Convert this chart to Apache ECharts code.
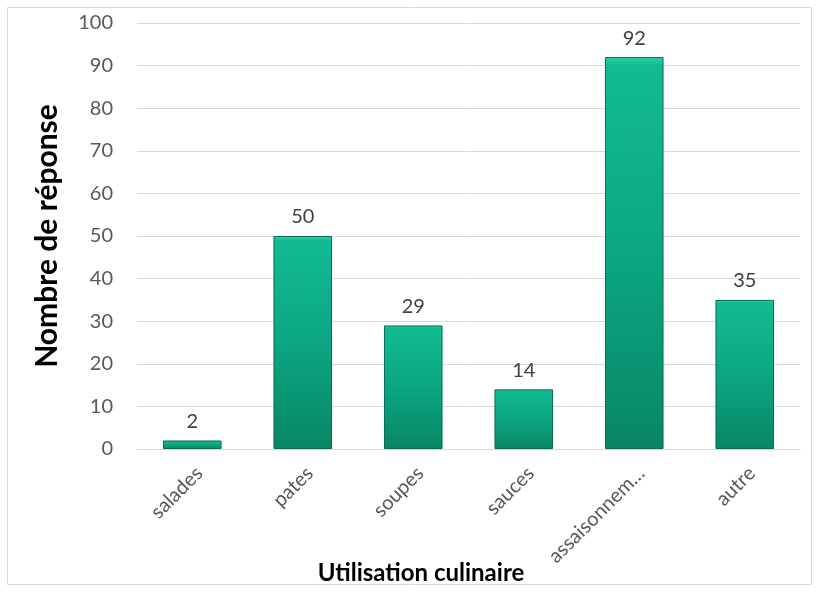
<!DOCTYPE html>
<html><head><meta charset="utf-8">
<script src="https://cdn.jsdelivr.net/npm/echarts@6/dist/echarts.min.js"></script>
<style>html,body{margin:0;padding:0;background:#fff}#c{width:819px;height:592px}</style>
</head><body><div id="c"></div>
<script>
const categories = ["salades", "pates", "soupes", "sauces", "assaisonnement", "autre"];
const values = [2, 50, 29, 14, 92, 35];
const yTicks = [0, 10, 20, 30, 40, 50, 60, 70, 80, 90, 100];

const chart = echarts.init(document.getElementById('c'));
const font = 'Lato, "Open Sans", sans-serif';
chart.setOption({
  animation: false,
  graphic: [{
    type: 'rect', shape: {x: 7.5, y: 7.5, width: 804, height: 577},
    style: {fill: 'none', stroke: '#d9d9d9', lineWidth: 1}, silent: true, z: -1
  }, {
    type: 'text', x: 421, y: 573,
    style: {text: 'Utilisation culinaire', fontFamily: font, fontWeight: 'bold', fontSize: 24,
      fill: '#000', align: 'center', verticalAlign: 'middle'}
  }],
  grid: {left: 137, right: 19, top: 23, bottom: 143, containLabel: false, outerBoundsMode: 'none'},
  xAxis: {
    type: 'category', data: categories,
    axisLine: {lineStyle: {color: '#d9d9d9', width: 1}},
    axisTick: {show: false},
    axisLabel: {
      rotate: 45, fontFamily: font, fontSize: 20, color: '#595959', margin: 14,
      verticalAlign: 'top', align: 'right',
      formatter: v => v.length > 12 ? v.slice(0, 11) + '…' : v
    }
  },
  yAxis: {
    type: 'value', min: yTicks[0], max: yTicks[yTicks.length - 1], interval: 10,
    name: 'Nombre de réponse', nameLocation: 'middle', nameGap: 75,
    nameTextStyle: {fontFamily: font, fontWeight: 'bold', fontSize: 30, color: '#000'},
    axisLine: {show: false}, axisTick: {show: false},
    axisLabel: {fontFamily: font, fontSize: 20, color: '#595959', margin: 24},
    splitLine: {lineStyle: {color: '#d9d9d9', width: 1}}
  },
  series: [{
    type: 'bar', data: values, barCategoryGap: '47%',
    itemStyle: {
      color: new echarts.graphic.LinearGradient(0, 0, 0, 1, [
        {offset: 0, color: '#2ad3a8'},
        {offset: 0.02, color: '#12bb92'},
        {offset: 0.5, color: '#0ca682'},
        {offset: 1, color: '#098664'}
      ]),
      borderColor: '#086b52', borderWidth: 1
    },
    label: {show: true, position: 'top', distance: 9, fontFamily: font, fontSize: 20, color: '#404040'}
  }]
});
</script></body></html>
